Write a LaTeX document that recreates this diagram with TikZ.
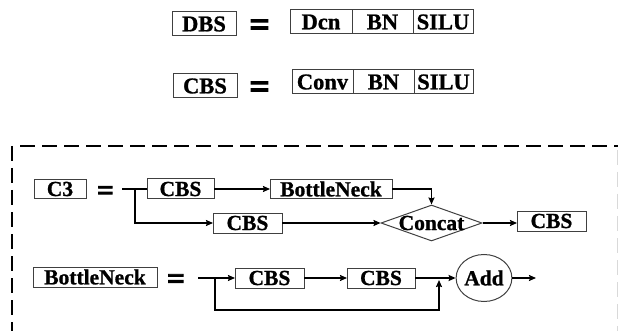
\documentclass[tikz,border=0pt]{standalone}
\usepackage{fontspec}
\setmainfont{Liberation Serif}[BoldFeatures={FakeBold=1}]
\newfontfamily\eqfont[FakeBold=3]{Liberation Serif}
\usetikzlibrary{positioning, shapes.geometric, arrows.meta}

\tikzset{
  blk/.style={draw=black!75, line width=1pt, inner sep=0pt, outer sep=0pt,
    minimum height=20pt, font=\fontsize{21.5}{22}\selectfont\bfseries},
  cell/.style={blk, minimum width=61pt, minimum height=24pt,
    font=\fontsize{22.5}{24}\selectfont\bfseries},
  eqsign/.style={inner sep=0pt, font=\eqfont\fontsize{#1}{#1}\selectfont\bfseries},
  flow/.style={->, line width=1.8pt},
  link/.style={line width=1.8pt},
  frame/.style={line width=1.7pt, dash pattern=on 15pt off 7pt}
}

\begin{document}
\begin{tikzpicture}[x=1pt, y=-1pt, >={Stealth[length=7pt, width=6pt, inset=1pt]}]
    \useasboundingbox (0,0) rectangle (618,331);

    % DBS block
    \node (dbs) [cell, minimum width=64pt] at (204,24) {DBS};
    \node (eq_dbs) [eqsign=36] at (259.5,28) {=};
    \node (dcn) [cell, minimum width=62pt] at (321,22) {Dcn};
    \node (bn_d) [cell, right=0pt of dcn] {BN};
    \node (silu_d) [cell, minimum width=60pt, right=0pt of bn_d] {SILU};

    % CBS block
    \node (cbs) [cell, minimum width=64pt] at (205,86) {CBS};
    \node (eq_cbs) [eqsign=36] at (259.5,90) {=};
    \node (conv) [cell] at (322.5,82) {Conv};
    \node (bn_c) [cell, right=0pt of conv] {BN};
    \node (silu_c) [cell, minimum width=59pt, right=0pt of bn_c] {SILU};

    % dashed frame round the modules
    \draw[frame] (12,146) -- (12,336);
    \draw[frame] (20,146) -- (620,146);
    \draw[frame, black!15, line width=1pt] (617,150) -- (617,336);

    % C3 module
    \node (c3) [blk, minimum width=52pt, minimum height=19pt] at (60,189) {C3};
    \node (eq_c3) [eqsign=29] at (105.5,193) {=};
    \coordinate (c3_in) at (122,189);
    \coordinate (c3_fork) at (135,189);
    \node (cbs_a) [blk, minimum width=67pt] at (180.5,189) {CBS};
    \node (neck_a) [blk, minimum width=122pt, minimum height=19pt] at (331,189) {BottleNeck};
    \node (cbs_b) [blk, minimum width=69pt] at (247.5,223) {CBS};
    \node (cat) [diamond, draw=black!75, line width=1pt, inner sep=0pt, aspect=2.9,
      minimum width=101pt, minimum height=36pt,
      font=\fontsize{21.5}{22}\selectfont\bfseries] at (431.5,223) {\makebox[0pt]{Concat}};
    \node (cbs_c) [blk, minimum width=69pt] at (551.5,221) {CBS};

    \draw[link] (c3_in) -- (cbs_a.west);
    \draw[flow] (cbs_a) -- (neck_a);
    \draw[flow] (c3_fork) |- (cbs_b.west);
    \draw[flow] (neck_a.east) -| (cat.north);
    \draw[flow] (cbs_b) -- (cat.west);
    \draw[flow] (cat.east) -- (cbs_c.west |- cat.east);

    % BottleNeck module
    \node (neck) [blk, minimum width=124pt] at (95,277) {BottleNeck};
    \node (eq_neck) [eqsign=31] at (176,281.5) {=};
    \coordinate (nk_in) at (198,278);
    \coordinate (nk_fork) at (215,278);
    \node (cbs_d) [blk, minimum width=69pt] at (269.5,278) {CBS};
    \node (cbs_e) [blk, minimum width=68pt] at (381,278) {CBS};
    \coordinate (nk_join) at (439,278);
    \node (add) [ellipse, draw=black!75, line width=1pt, inner sep=0pt,
      minimum width=52pt, minimum height=47pt,
      font=\fontsize{21.5}{22}\selectfont\bfseries] at (484,278) {Add};
    \coordinate (nk_out) at (536,278);

    \draw[flow] (nk_in) -- (cbs_d.west);
    \draw[flow] (cbs_d) -- (cbs_e);
    \draw[flow] (cbs_e) -- (add);
    \draw[flow, shorten >=2pt] (nk_fork) -- ++(0,32) -| (nk_join);
    \draw[flow] (add) -- (nk_out);
\end{tikzpicture}
\end{document}
